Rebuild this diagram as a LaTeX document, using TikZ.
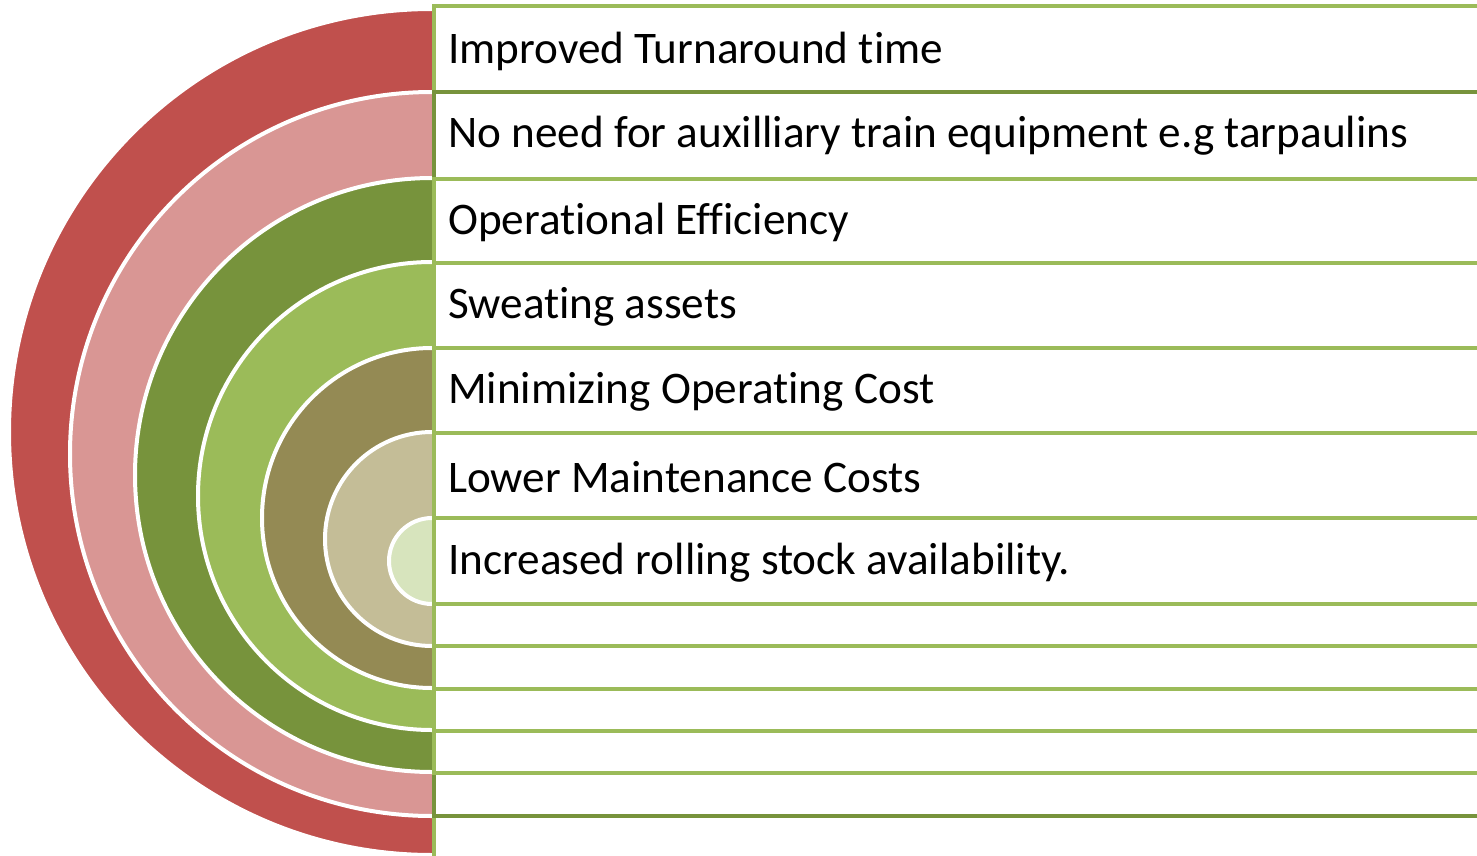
\documentclass[tikz,border=0pt]{standalone}
\usepackage{fontspec}
\setmainfont{Carlito}[Ligatures={NoCommon}]
\definecolor{cred}{HTML}{C0504D}
\definecolor{cpink}{HTML}{D99694}
\definecolor{cdkgreen}{HTML}{77933C}
\definecolor{cltgreen}{HTML}{9BBB59}
\definecolor{colive}{HTML}{948A54}
\definecolor{cbeige}{HTML}{C4BD97}
\definecolor{cpale}{HTML}{D7E4BD}
\tikzset{
  ring/.style={fill=#1, draw=white, line width=4pt},
  rowbox/.style={fill=white, draw=#1, line width=4.5pt},
  label/.style={anchor=west, inner sep=0pt, font=\fontsize{45.2}{52}\selectfont, text=black},
}
\begin{document}
\begin{tikzpicture}[x=1pt,y=1pt]
\useasboundingbox (0,0) rectangle (1477,-856);
\begin{scope}
\clip (0,0) rectangle (1477,-856);
\begin{scope}
\clip (0,10) rectangle (432,-870);
\draw[ring=cred]     (432,-432) circle (423);
\draw[ring=cpink]    (432,-454) circle (362);
\draw[ring=cdkgreen] (432,-475) circle (297);
\draw[ring=cltgreen] (432,-496) circle (234);
\draw[ring=colive]   (432,-518) circle (170);
\draw[ring=cbeige]   (432,-539) circle (107);
\draw[ring=cpale]    (432,-561) circle (43);
\end{scope}
\draw[rowbox=cltgreen] (434,-6)   rectangle (1500,-880);
\draw[rowbox=cdkgreen] (434,-92)  rectangle (1500,-816);
\draw[rowbox=cltgreen] (434,-179) rectangle (1500,-773);
\draw[rowbox=cltgreen] (434,-263) rectangle (1500,-731);
\draw[rowbox=cltgreen] (434,-348) rectangle (1500,-689);
\draw[rowbox=cltgreen] (434,-433) rectangle (1500,-646);
\draw[rowbox=cltgreen] (434,-518) rectangle (1500,-604);
\end{scope}
\node[label] (t1) at (448,-51)  {Improved Turnaround time};
\node[label] (t2) at (448,-136) {No need for auxilliary train equipment e.g tarpaulins};
\node[label] (t3) at (448,-222) {Operational Efficiency};
\node[label] (t4) at (448,-307) {Sweating assets};
\node[label] (t5) at (448,-392) {Minimizing Operating Cost};
\node[label] (t6) at (448,-477) {Lower Maintenance Costs};
\node[label] (t7) at (448,-563) {Increased rolling stock availability.};
\end{tikzpicture}
\end{document}
